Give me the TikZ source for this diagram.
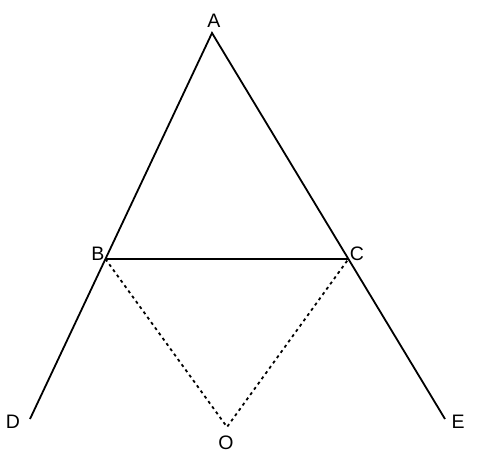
\documentclass[tikz,border=0pt]{standalone}
\usepackage{fontspec}
\setmainfont{Liberation Sans}
\usetikzlibrary{calc}
\begin{document}
\begin{tikzpicture}[x=1pt,y=-1pt,
  lbl/.style={font=\fontsize{19.5}{22}\selectfont, inner sep=0pt},
  seg/.style={line width=1.8pt},
  dots/.style={line width=1.8pt, dash pattern=on 3pt off 3.5pt}]
\useasboundingbox (0,0) rectangle (477,458);
\coordinate (A) at (212,33);
\coordinate (D) at (30,419);
\coordinate (E) at (445,419);
\coordinate (B) at ($(A)!0.5855!(D)$);
\coordinate (C) at ($(A)!0.5855!(E)$);
\coordinate (O) at (227,427);
\draw[seg] (D) -- (A) -- (E);
\draw[seg] (B) -- (C);
\draw[dots] (B) -- (O) -- (C);
\node[lbl] (lA) at (214,21) {A};
\node[lbl] (lB) at (98,254) {B};
\node[lbl] (lC) at (357,254) {C};
\node[lbl] (lD) at (13,422) {D};
\node[lbl] (lE) at (458,422) {E};
\node[lbl] (lO) at (226,443) {O};
\end{tikzpicture}
\end{document}
